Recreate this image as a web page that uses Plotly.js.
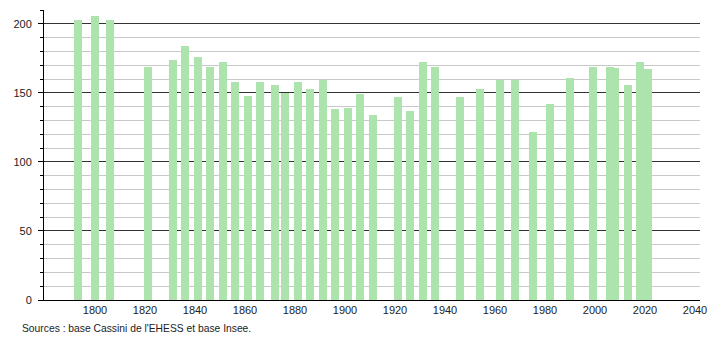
<!DOCTYPE html>
<html>
<head>
<meta charset="utf-8">
<script src="https://cdn.plot.ly/plotly-3.0.1.min.js"></script>
<style>html,body{margin:0;padding:0;background:#fff;}#chart{width:710px;height:340px;}</style>
</head>
<body>
<div id="chart"></div>
<script>
var years = [1793, 1800, 1806, 1821, 1831, 1836, 1841, 1846, 1851, 1856, 1861, 1866, 1872, 1876, 1881, 1886, 1891, 1896, 1901, 1906, 1911, 1921, 1926, 1931, 1936, 1946, 1954, 1962, 1968, 1975, 1982, 1990, 1999, 2006, 2008, 2013, 2018, 2021];
var population = [203, 206, 203, 169, 174, 184, 176, 169, 172, 158, 148, 158, 156, 150, 158, 153, 159, 138, 139, 149, 134, 147, 137, 172, 169, 147, 153, 159, 159, 122, 142, 161, 169, 169, 168, 156, 172, 167];
var xTickVals = [1800, 1820, 1840, 1860, 1880, 1900, 1920, 1940, 1960, 1980, 2000, 2020, 2040];
var yTickVals = [0, 50, 100, 150, 200];
var sourceText = "Sources : base Cassini de l'EHESS et base Insee.";

var trace = {
  type: 'bar',
  x: years,
  y: population,
  width: years.map(function(){return 3.2;}),
  marker: {color: 'rgb(173,227,173)', line: {width: 0}},
  hoverinfo: 'x+y'
};

var font = {family: 'Liberation Sans, Arial, sans-serif', size: 11, color: '#222'};
var srcFont = {family: 'Liberation Sans, Arial, sans-serif', size: 10.3, color: '#222'};

var layout = {
  width: 710, height: 340,
  margin: {l: 44, r: 10, t: 10, b: 40, pad: 0},
  paper_bgcolor: '#fff', plot_bgcolor: '#fff',
  showlegend: false,
  font: font,
  bargap: 0,
  xaxis: {
    range: [1779.6, 2042],
    tickvals: xTickVals,
    ticktext: xTickVals.map(String),
    ticks: '',
    showgrid: false,
    showline: true, linecolor: '#000', linewidth: 1,
    zeroline: false,
    tickfont: font
  },
  yaxis: {
    range: [0, 210],
    tickvals: yTickVals,
    ticks: 'outside', ticklen: 5, tickcolor: '#000', tickwidth: 1,
    ticklabelstandoff: 4,
    showgrid: true, gridcolor: '#333', gridwidth: 1,
    showline: true, linecolor: '#000', linewidth: 1,
    zeroline: false,
    tickfont: font,
    minor: {dtick: 10, tick0: 0, showgrid: true, gridcolor: '#c8c8c8', gridwidth: 1, ticks: 'outside', ticklen: 3, tickcolor: '#000', tickwidth: 1}
  },
  annotations: [{
    text: sourceText,
    xref: 'paper', yref: 'paper',
    x: (20 - 44) / 656, y: (300 - 328) / 290,
    xanchor: 'left', yanchor: 'middle',
    showarrow: false,
    font: srcFont
  }]
};

Plotly.newPlot('chart', [trace], layout, {displayModeBar: false, staticPlot: true});
</script>
</body>
</html>
